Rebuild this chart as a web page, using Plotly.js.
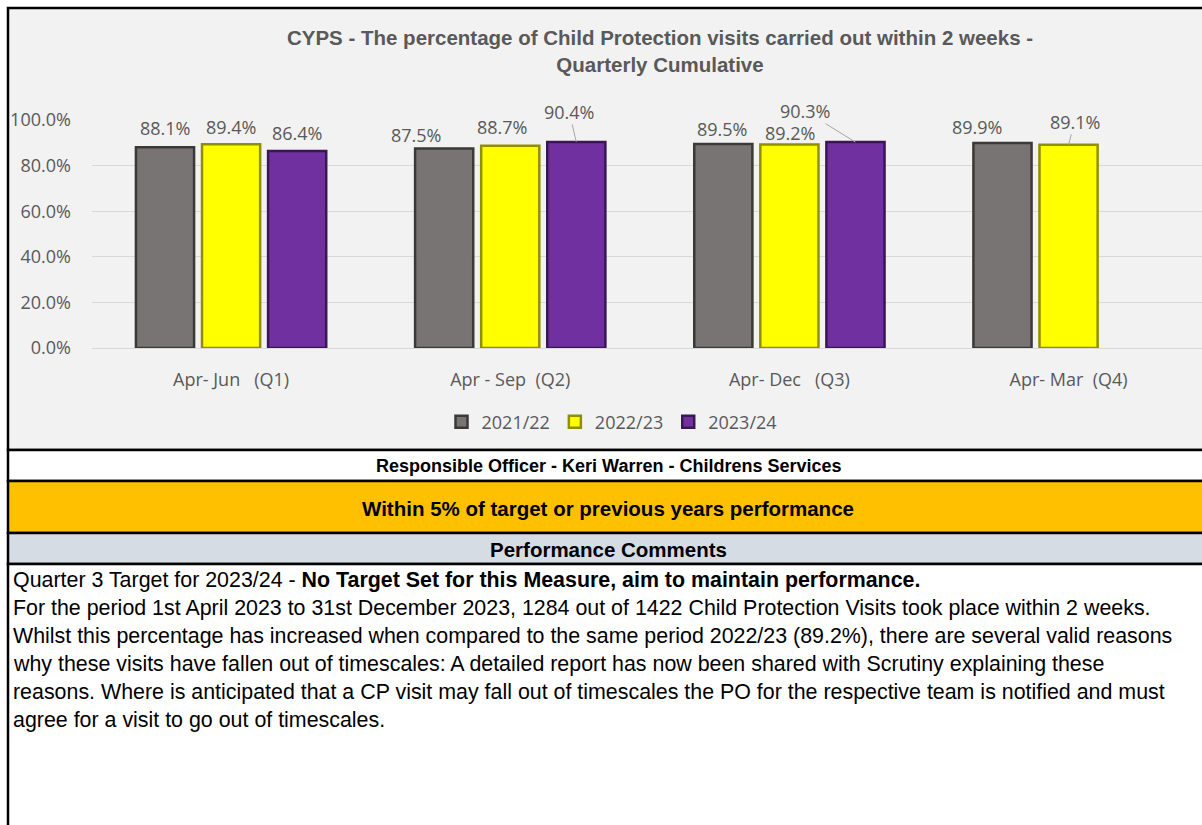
<!DOCTYPE html>
<html>
<head>
<meta charset="utf-8">
<script src="https://cdn.plot.ly/plotly-3.0.1.min.js"></script>
<style>
  html, body { margin: 0; padding: 0; background: #ffffff; overflow: hidden; }
  #graph { width: 1202px; height: 825px; }
</style>
</head>
<body>
<div id="graph"></div>
<script>
// chart data
var quarters = ['Apr- Jun\u00a0\u00a0\u00a0(Q1)', 'Apr - Sep\u00a0\u00a0(Q2)', 'Apr- Dec\u00a0\u00a0\u00a0(Q3)', 'Apr- Mar\u00a0\u00a0(Q4)'];
var seriesNames = ['2021/22', '2022/23', '2023/24'];
var v2122 = [0.881, 0.875, 0.895, 0.899];
var v2223 = [0.894, 0.887, 0.892, 0.891];
var v2324 = [0.864, 0.904, 0.903, null];

var yTicks = [0, 0.2, 0.4, 0.6, 0.8, 1.0];

// texts of the table under the chart
var officerText = 'Responsible Officer - Keri Warren - Childrens Services';
var ragText = 'Within 5% of target or previous years performance';
var commentsHead = 'Performance Comments';
var commentLines = [
    'Quarter 3 Target for 2023/24 - <b>No Target Set for this Measure, aim to maintain performance.</b>',
    'For the period 1st April 2023 to 31st December 2023, 1284 out of 1422 Child Protection Visits took place within 2 weeks.',
    'Whilst this percentage has increased when compared to the same period 2022/23 (89.2%), there are several valid reasons',
    'why these visits have fallen out of timescales: A detailed report has now been shared with Scrutiny explaining these',
    'reasons. Where is anticipated that a CP visit may fall out of timescales the PO for the respective team is notified and must',
    'agree for a visit to go out of timescales.'
];

var W = 1202, H = 825;
function px(x) { return x / W; }
function py(y) { return 1 - y / H; }

var fills = ['#787473', '#FFFF00', '#7030A0'];
var edges = ['#3b3838', '#8f8f00', '#3a1656'];
var values = [v2122, v2223, v2324];

// label offsets (px) from each bar top, Excel had moved a few of them by hand
var labelShift = [
    [[0, 19], [-28, 14], [-1, 15], [-26, 16]],
    [[0, 17], [-8, 19], [1, 12], [6, 23]],
    [[0, 18], [-7, 30], [-50, 31], [0, 0]]
];
var leader = [
    [false, false, false, false],
    [false, false, false, true],
    [false, true, true, false]
];

var chartFont = 'Open Sans, DejaVu Sans, sans-serif';
var tableFont = 'Liberation Sans, Arial, sans-serif';
var slot = 66;

var data = [];
var annotations = [];
for (var s = 0; s < 3; s++) {
    data.push({
        type: 'bar',
        name: seriesNames[s],
        x: quarters,
        y: values[s],
        marker: { color: fills[s], line: { color: edges[s], width: 2.5 } },
        hoverinfo: 'x+y+name'
    });
    for (var q = 0; q < quarters.length; q++) {
        var v = values[s][q];
        if (v === null) continue;
        var label = (v * 100).toFixed(1) + '%';
        var sh = labelShift[s][q];
        if (leader[s][q]) {
            annotations.push({
                x: quarters[q], y: v, xref: 'x', yref: 'y',
                xshift: (s - 1) * slot,
                text: label, showarrow: true, arrowhead: 0, arrowwidth: 1,
                arrowcolor: '#a6a6a6', standoff: 0, borderpad: 0,
                ax: sh[0], ay: -sh[1],
                font: { family: chartFont, size: 18, color: '#595959' }
            });
        } else {
            annotations.push({
                x: quarters[q], y: v, xref: 'x', yref: 'y',
                xshift: (s - 1) * slot + sh[0], yshift: sh[1],
                text: label, showarrow: false, borderpad: 0,
                font: { family: chartFont, size: 18, color: '#595959' }
            });
        }
    }
}

// table rows under the chart
annotations.push({
    xref: 'paper', yref: 'paper', x: px(608), y: py(466), xanchor: 'center', yanchor: 'middle',
    text: '<b>' + officerText + '</b>', showarrow: false,
    font: { family: tableFont, size: 18, color: '#000000' }
});
annotations.push({
    xref: 'paper', yref: 'paper', x: px(608), y: py(508), xanchor: 'center', yanchor: 'middle',
    text: '<b>' + ragText + '</b>', showarrow: false,
    font: { family: tableFont, size: 20.5, color: '#000000' }
});
annotations.push({
    xref: 'paper', yref: 'paper', x: px(608), y: py(549), xanchor: 'center', yanchor: 'middle',
    text: '<b>' + commentsHead + '</b>', showarrow: false,
    font: { family: tableFont, size: 20.5, color: '#000000' }
});
for (var i = 0; i < commentLines.length; i++) {
    annotations.push({
        xref: 'paper', yref: 'paper', x: px(11), y: py(580 + i * 28), xanchor: 'left', yanchor: 'middle',
        text: commentLines[i], showarrow: false,
        font: { family: tableFont, size: 21.4, color: '#000000' }
    });
}

function box(y0, y1, fill) {
    return {
        type: 'rect', xref: 'paper', yref: 'paper', layer: 'below',
        x0: px(8), x1: px(1210), y0: py(y0), y1: py(y1),
        fillcolor: fill, line: { color: '#000000', width: 2.5 }
    };
}

var layout = {
    width: W,
    height: H,
    margin: { l: 0, r: 0, t: 0, b: 0 },
    paper_bgcolor: '#ffffff',
    plot_bgcolor: 'rgba(0,0,0,0)',
    barmode: 'group',
    bargap: 0.29,
    bargroupgap: 0.12,
    title: {
        text: '<b>CYPS - The percentage of Child Protection visits carried out within 2 weeks -<br>Quarterly Cumulative</b>',
        font: { family: tableFont, size: 20.5, color: '#595959' },
        x: px(660), xanchor: 'center', y: py(45), yanchor: 'middle'
    },
    xaxis: {
        domain: [px(91.5), 1],
        range: [-0.5, 3.478],
        type: 'category',
        showgrid: false,
        showline: true, linecolor: '#d9d9d9', linewidth: 1,
        ticks: 'outside', ticklen: 15, tickcolor: 'rgba(0,0,0,0)',
        tickfont: { family: chartFont, size: 18, color: '#595959' },
        fixedrange: true
    },
    yaxis: {
        domain: [py(348), py(120)],
        range: [0, 1],
        tickvals: yTicks,
        tickformat: '.1%',
        showgrid: true, gridcolor: '#d9d9d9', gridwidth: 1,
        zeroline: false,
        ticks: 'outside', ticklen: 16, tickcolor: 'rgba(0,0,0,0)',
        tickfont: { family: chartFont, size: 18, color: '#595959' },
        fixedrange: true
    },
    legend: {
        orientation: 'h',
        x: px(612), xanchor: 'center',
        y: py(422), yanchor: 'middle',
        bgcolor: 'rgba(0,0,0,0)',
        font: { family: chartFont, size: 18, color: '#595959' },
        itemwidth: 30
    },
    shapes: [
        box(8, 450, '#F2F2F2'),
        box(450, 481, '#ffffff'),
        box(481, 533, '#FFC000'),
        box(533, 564, '#D6DCE4'),
        box(564, 840, '#ffffff')
    ],
    annotations: annotations,
    showlegend: true
};

Plotly.newPlot('graph', data, layout, { displayModeBar: false, staticPlot: true });
</script>
</body>
</html>
